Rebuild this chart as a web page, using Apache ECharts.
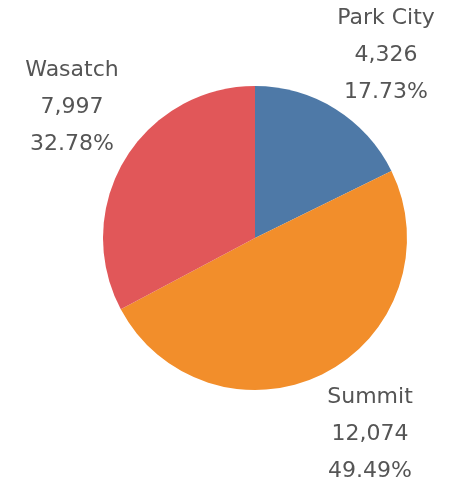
<!DOCTYPE html>
<html>
<head>
<meta charset="utf-8">
<script src="https://cdn.jsdelivr.net/npm/echarts@6/dist/echarts.min.js"></script>
<style>
  html, body { margin: 0; padding: 0; background: #fff; }
  #chart { width: 460px; height: 482px; }
</style>
</head>
<body>
<div id="chart"></div>
<script>
const categories = ['Park City', 'Summit', 'Wasatch'];
const values = [4326, 12074, 7997];
const percentLabels = ['17.73%', '49.49%', '32.78%'];
const colors = ['#4e79a7', '#f28e2b', '#e15759'];

// label anchor centres (text block middle)
const labelPos = [[386, 55], [370, 434], [72, 107]];

const chart = echarts.init(document.getElementById('chart'));
chart.setOption({
    animation: false,
    series: [
        {
            type: 'pie',
            center: [255, 238],
            radius: 152,
            startAngle: 90,
            clockwise: true,
            data: categories.map((name, i) => ({
                name,
                value: values[i],
                itemStyle: { color: colors[i] },
            })),
            itemStyle: { borderWidth: 0 },
            label: {
                show: true,
                position: 'outside',
                formatter: (p) => `${p.name}\n${p.value.toLocaleString('en-US')}\n${percentLabels[p.dataIndex]}`,
                color: '#555',
                fontFamily: 'DejaVu Sans',
                fontSize: 22,
                lineHeight: 37,
                align: 'center',
                overflow: 'none',
                width: 160,
            },
            labelLine: { show: false },
            labelLayout: (params) => ({
                x: labelPos[params.dataIndex][0],
                y: labelPos[params.dataIndex][1],
                align: 'center',
                verticalAlign: 'middle',
            }),
        },
    ],
});
</script>
</body>
</html>
